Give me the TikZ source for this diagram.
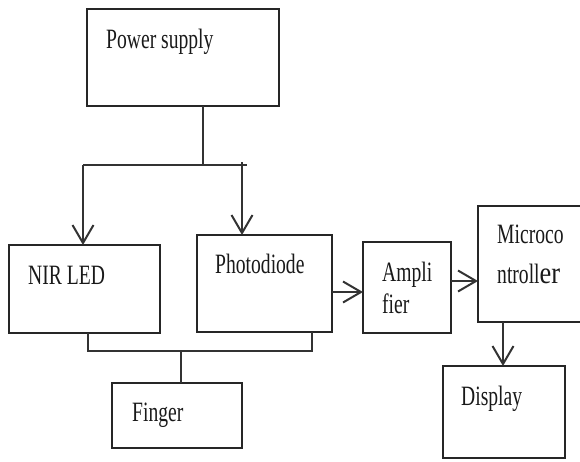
\documentclass[tikz,border=0pt]{standalone}
\usepackage{fontspec}
\setmainfont[FakeStretch=0.7]{Liberation Serif}
\newfontfamily\erfont[FakeStretch=0.85]{Liberation Serif}
\usetikzlibrary{arrows.meta}
\begin{document}
\begin{tikzpicture}[x=1pt,y=-1pt,
  box/.style={draw=black!85, line width=2pt, inner sep=0pt, outer sep=0pt},
  txt/.style={anchor=base west, inner sep=0pt, text=black!90, font=\fontsize{28}{32}\selectfont},
  ln/.style={draw=black!80, line width=2pt},
  arr/.style={ln, -{Straight Barb[length=18pt,width=21pt,line width=2pt]}}]
\clip (0,0) rectangle (580,461);
% boxes
\node[box, minimum width=192pt, minimum height=97pt] (ps) at (183,57.5) {};
\node[box, minimum width=151pt, minimum height=88pt] (led) at (84.5,289) {};
\node[box, minimum width=135pt, minimum height=97pt] (pd) at (264.5,283.5) {};
\node[box, minimum width=130pt, minimum height=65pt] (fin) at (177,415.5) {};
\node[box, minimum width=88pt, minimum height=91pt] (amp) at (407,287.5) {};
\node[box, minimum width=122pt, minimum height=116pt] (mc) at (539,264) {};
\node[box, minimum width=122pt, minimum height=92pt] (dsp) at (504,412) {};
% texts
\node[txt] (tps) at (106,48) {Power supply};
\node[txt] (tled) at (28,284) {NIR LED};
\node[txt] (tpd) at (215,273) {Photodiode};
\node[txt] (tfin) at (132,421) {Finger};
\node[txt] (tamp1) at (382,281) {Ampli};
\node[txt] (tamp2) at (382,313) {fier};
\node[txt] (tmc1) at (497,243) {Microco};
\node[txt] (tmc2) at (497,283) {ntroll{\erfont\fontsize{31}{34}\selectfont er}};
\node[txt] (tdsp) at (461,405) {Display};
% power distribution
\coordinate (jp) at (203,165);
\coordinate (jl) at (83,165);
\coordinate (jr) at (242,165);
\coordinate (jre) at (247,165);
\coordinate (jrt) at (242,162);
\draw[ln] (ps.south -| jp) -- (jp);
\draw[ln] (jl) -- (jre);
\draw[arr] (jl) -- (jl |- led.north);
\draw[arr] (jrt) -- (jrt |- pd.north);
% finger connection
\coordinate (bl) at (88,351);
\coordinate (br) at (312,351);
\coordinate (bf) at (181,351);
\draw[ln] (bl |- led.south) -- (bl) -- (br) -- (br |- pd.south);
\draw[ln] (bf) -- (bf |- fin.north);
% signal chain
\coordinate (a1) at (0,292);
\coordinate (a2) at (0,281);
\coordinate (a3) at (503,0);
\draw[arr] (pd.east |- a1) -- (amp.west |- a1);
\draw[arr] (amp.east |- a2) -- (mc.west |- a2);
\draw[arr] (mc.south -| a3) -- (dsp.north -| a3);
\end{tikzpicture}
\end{document}
